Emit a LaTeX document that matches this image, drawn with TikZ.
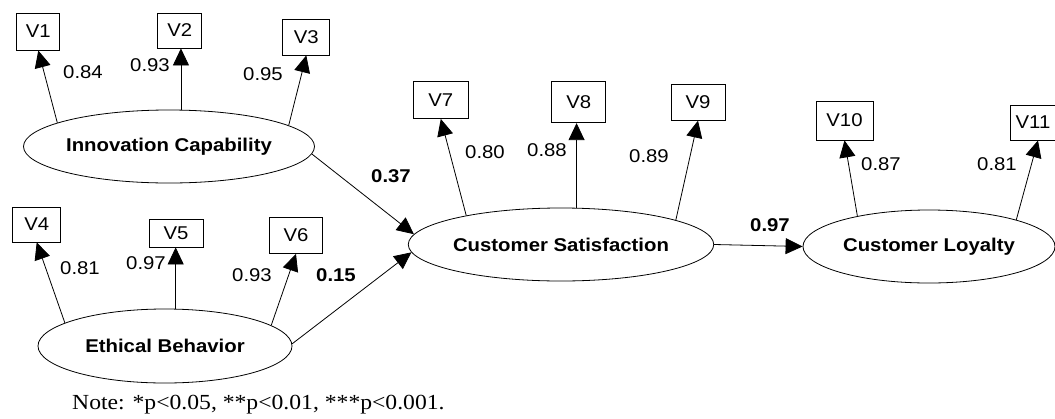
\documentclass[tikz,border=0pt]{standalone}
\usepackage{fontspec}
\setsansfont[FakeStretch=1.1]{Liberation Sans}
\setmainfont[FakeStretch=1.1]{Liberation Serif}
\usetikzlibrary{arrows.meta,shapes.geometric}
\tikzset{
  latent/.style={ellipse,draw,line width=0.8pt,inner sep=0pt,minimum width=254pt,minimum height=73pt,
    font=\sffamily\bfseries\fontsize{18.5}{20}\selectfont},
  obs/.style={rectangle,draw,line width=0.8pt,inner sep=0pt,
    font=\sffamily\fontsize{18.5}{20}\selectfont},
  lab/.style={inner sep=0pt,font=\sffamily\fontsize{18.5}{20}\selectfont},
  blab/.style={inner sep=0pt,font=\sffamily\bfseries\fontsize{18.5}{20}\selectfont},
  conn/.style={line width=0.8pt,-{Triangle[length=17pt,width=16pt]}}
}
\begin{document}
\begin{tikzpicture}[x=1pt,y=-1pt]
\useasboundingbox (0,0) rectangle (1055,418);
% latent variables
\node[latent] (IC) at (169,146.5) {Innovation Capability};
\node[latent,minimum height=74pt] (EB) at (165,346) {Ethical Behavior};
\node[latent] (CS) at (561,244.5) {Customer Satisfaction};
\node[latent,minimum width=252pt] (CL) at (929,246.5) {Customer Loyalty};
% observed variables
\node[obs,minimum width=43pt,minimum height=37pt] (V1) at (38.3,31.6) {V1};
\node[obs,minimum width=44pt,minimum height=35pt] (V2) at (179.7,30.5) {V2};
\node[obs,minimum width=47pt,minimum height=36pt] (V3) at (306.3,37) {V3};
\node[obs,minimum width=48pt,minimum height=35pt] (V4) at (36.7,224.5) {V4};
\node[obs,minimum width=54pt,minimum height=28pt] (V5) at (176,233) {V5};
\node[obs,minimum width=53pt,minimum height=36pt] (V6) at (296,235.5) {V6};
\node[obs,minimum width=55pt,minimum height=37pt] (V7) at (440.8,100) {V7};
\node[obs,minimum width=54pt,minimum height=41pt] (V8) at (578.7,102.2) {V8};
\node[obs,minimum width=54pt,minimum height=36pt] (V9) at (698,102.2) {V9};
\node[obs,minimum width=57pt,minimum height=39pt] (V10) at (844.5,120.5) {V10};
\node[obs,minimum width=46pt,minimum height=35pt] (V11) at (1033,122.5) {V11};
% loadings
\draw[conn] (IC.168) -- (V1.south);
\draw[conn] (IC.72.8) -- (IC.72.8 |- V2.south);
\draw[conn] (IC.10.2) -- (V3.south);
\draw[conn] (EB.167) -- (V4.south);
\draw[conn] (EB.74.9) -- (EB.74.9 |- V5.south);
\draw[conn] (EB.11.5) -- (V6.south);
\draw[conn] (CS.163.8) -- (V7.south);
\draw[conn] (CS.67.7) -- (CS.67.7 |- V8.south);
\draw[conn] (CS.12.7) -- (V9.south);
\draw[conn] (CL.157.1) -- (V10.south);
\draw[conn] (CL.17.2) -- ([xshift=5pt]V11.south);
% structural paths
\draw[conn] (IC.357) -- (CS.176.6);
\draw[conn] (EB.1.8) -- (CS.183.4);
\draw[conn] (CS.east) -- (CL.west);
% loading labels
\node[lab] (l1) at (83,72.5) {0.84};
\node[lab] (l2) at (150,65) {0.93};
\node[lab] (l3) at (263,74) {0.95};
\node[lab] (l4) at (80,268) {0.81};
\node[lab] (l5) at (146,263) {0.97};
\node[lab] (l6) at (252,275) {0.93};
\node[lab] (l7) at (485,152) {0.80};
\node[lab] (l8) at (547,150) {0.88};
\node[lab] (l9) at (649,156) {0.89};
\node[lab] (l10) at (881,164) {0.87};
\node[lab] (l11) at (997,164) {0.81};
% path labels
\node[blab] (p1) at (391,176) {0.37};
\node[blab] (p2) at (336,275) {0.15};
\node[blab] (p3) at (770,225) {0.97};
% note
\node[inner sep=0pt,anchor=base west,font=\rmfamily\fontsize{21.5}{24}\selectfont] (note) at (72,409) {Note: *p<0.05, **p<0.01, ***p<0.001.};
\end{tikzpicture}
\end{document}
